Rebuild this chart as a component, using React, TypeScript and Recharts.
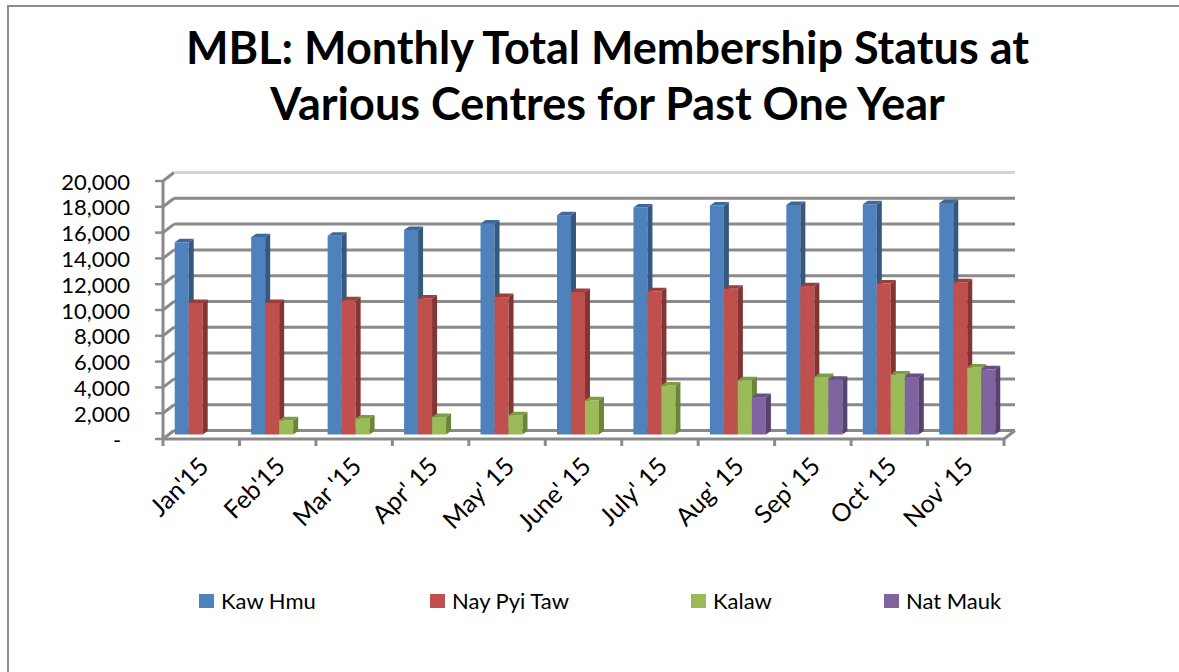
import React from "react";
import { BarChart, Bar, XAxis, YAxis, CartesianGrid, Legend } from "recharts";

// data
const months = [
  "Jan'15",
  "Feb'15",
  "Mar '15",
  "Apr' 15",
  "May' 15",
  "June' 15",
  "July' 15",
  "Aug' 15",
  "Sep' 15",
  "Oct' 15",
  "Nov' 15",
];
const kawHmu = [14900, 15300, 15400, 15850, 16350, 17000, 17600, 17750, 17800, 17850, 17950];
const nayPyiTaw = [10200, 10200, 10400, 10550, 10650, 11050, 11100, 11300, 11500, 11700, 11800];
const kalaw = [null, 1100, 1250, 1350, 1500, 2650, 3800, 4200, 4450, 4650, 5200];
const natMauk = [null, null, null, null, null, null, null, 2900, 4250, 4450, 5050];
const yTicks = [0, 2000, 4000, 6000, 8000, 10000, 12000, 14000, 16000, 18000, 20000];

const series = [
  { key: "kawHmu", name: "Kaw Hmu", front: "#4f81bd", side: "#34597f", top: "#3e6898" },
  { key: "nayPyiTaw", name: "Nay Pyi Taw", front: "#c0504d", side: "#843432", top: "#9c3e3b" },
  { key: "kalaw", name: "Kalaw", front: "#9bbb59", side: "#6b8539", top: "#7e9c43" },
  { key: "natMauk", name: "Nat Mauk", front: "#8064a2", side: "#56426f", top: "#674f84" },
];

const data = months.map((m, i) => ({
  month: m,
  kawHmu: kawHmu[i],
  nayPyiTaw: nayPyiTaw[i],
  kalaw: kalaw[i],
  natMauk: natMauk[i],
}));

const W = 1179;
const H = 672;
const PLOT_LEFT = 163;
const PLOT_RIGHT = 1004;
const PLOT_TOP = 181;
const PLOT_BOTTOM = 439;
const BAND = (PLOT_RIGHT - PLOT_LEFT) / months.length;
const DEPTH_X = 11;
const DEPTH_Y = 8.5;
const FONT = "Lato, 'Open Sans', sans-serif";
const GRID = "#8a8a8a";

const Bar3D = (props: any) => {
  const { x, y, width, height, fill, side, top } = props;
  if (height == null || height <= 0 || isNaN(y)) return null;
  const fx = x + 2;
  const fy = y - 4.5;
  const d = 5;
  const e = 3.5;
  return (
    <g>
      <rect x={fx} y={fy} width={width} height={height} fill={fill} />
      <polygon
        points={`${fx + width},${fy} ${fx + width + d},${fy - e} ${fx + width + d},${fy + height - e} ${fx + width},${fy + height}`}
        fill={side}
      />
      <polygon
        points={`${fx},${fy} ${fx + d},${fy - e} ${fx + width + d},${fy - e} ${fx + width},${fy}`}
        fill={top}
      />
    </g>
  );
};

const renderGridLine = (p: any) => {
  const { x1, x2, y1, index } = p;
  const isTop = Math.abs(y1 - PLOT_TOP) < 1;
  const isBottom = Math.abs(y1 - PLOT_BOTTOM) < 1;
  return (
    <g key={`grid-${index}`}>
      <path
        d={`M${x1},${y1} L${x1 + DEPTH_X},${y1 - DEPTH_Y}`}
        stroke={GRID}
        strokeWidth={3}
        fill="none"
      />
      <path
        d={`M${x1 + DEPTH_X},${y1 - DEPTH_Y} L${x2 + DEPTH_X},${y1 - DEPTH_Y}`}
        stroke={isTop ? "#d4d4d4" : GRID}
        strokeWidth={3}
        fill="none"
      />
      {isBottom && (
        <path
          d={`M${x2},${y1} L${x2 + DEPTH_X},${y1 - DEPTH_Y}`}
          stroke={GRID}
          strokeWidth={3}
          fill="none"
        />
      )}
    </g>
  );
};

const YTick = ({ x, y, payload }: any) => {
  if (payload.value === 0) {
    return (
      <text x={117} y={y} textAnchor="middle" dominantBaseline="central" fontSize={22} fontFamily={FONT} fill="#000">
        -
      </text>
    );
  }
  return (
    <text x={x} y={y} textAnchor="end" dominantBaseline="central" fontSize={22} fontFamily={FONT} fill="#000">
      {payload.value.toLocaleString("en-US")}
    </text>
  );
};

const XTick = ({ x, payload, index }: any) => {
  const left = x - BAND / 2;
  const ax = x + 9;
  const ay = PLOT_BOTTOM + 29;
  return (
    <g>
      <line x1={left} y1={PLOT_BOTTOM} x2={left} y2={PLOT_BOTTOM + 7} stroke={GRID} strokeWidth={3} />
      {index === months.length - 1 && (
        <line x1={x + BAND / 2} y1={PLOT_BOTTOM} x2={x + BAND / 2} y2={PLOT_BOTTOM + 7} stroke={GRID} strokeWidth={3} />
      )}
      <text
        x={ax}
        y={ay}
        textAnchor="end"
        fontSize={25}
        fontFamily={FONT}
        fill="#000"
        transform={`rotate(-45 ${ax} ${ay})`}
      >
        {payload.value}
      </text>
    </g>
  );
};

const legendLeft = [199, 430, 691, 884];

const LegendContent = ({ payload }: any) => {
  const items = series.map((s) => {
    const found = (payload || []).find((p: any) => p.value === s.name);
    return { value: s.name, color: found ? found.color : s.front };
  });
  return (
    <div style={{ position: "relative", width: W, height: 32, fontFamily: FONT }}>
      {items.map((entry, i) => (
        <div
          key={entry.value}
          style={{
            position: "absolute",
            left: legendLeft[i],
            top: 0,
            display: "flex",
            alignItems: "center",
            fontSize: 22,
            whiteSpace: "nowrap",
            color: "#000",
          }}
        >
          <span style={{ display: "inline-block", width: 15, height: 14, background: entry.color, marginRight: 7 }} />
          {entry.value}
        </div>
      ))}
    </div>
  );
};

export default function App() {
  return (
    <div
      style={{
        position: "absolute",
        left: 0,
        top: 0,
        width: W,
        height: H,
        background: "#fff",
        overflow: "hidden",
        fontFamily: FONT,
      }}
    >
      <div
        style={{
          position: "absolute",
          left: 7,
          top: 5,
          width: W + 20,
          height: H + 20,
          borderLeft: "2px solid #8c8c8c",
          borderTop: "2px solid #8c8c8c",
        }}
      />
      <div
        style={{
          position: "absolute",
          left: 0,
          top: 19,
          width: 1215,
          textAlign: "center",
          fontSize: 45,
          fontWeight: 700,
          lineHeight: "56px",
          color: "#000",
        }}
      >
        MBL: Monthly Total Membership Status at
        <br />
        Various Centres for Past One Year
      </div>
      <div style={{ position: "absolute", left: 0, top: 0 }}>
        <BarChart
          width={W}
          height={H}
          data={data}
          margin={{ top: PLOT_TOP, right: W - PLOT_RIGHT, bottom: H - PLOT_BOTTOM - 30, left: PLOT_LEFT - 60 }}
          barGap={0}
          barCategoryGap="12.7%"
        >
          <CartesianGrid vertical={false} horizontal={renderGridLine} />
          <XAxis
            dataKey="month"
            height={30}
            interval={0}
            axisLine={{ stroke: GRID, strokeWidth: 3 }}
            tickLine={false}
            tick={<XTick />}
          />
          <YAxis
            width={60}
            domain={[0, 20000]}
            ticks={yTicks}
            interval={0}
            tickSize={8}
            tickMargin={25}
            axisLine={{ stroke: GRID, strokeWidth: 3 }}
            tickLine={{ stroke: GRID, strokeWidth: 2.5 }}
            tick={<YTick />}
          />
          <Legend
            layout="horizontal"
            verticalAlign="middle"
            align="center"
            wrapperStyle={{ top: 587, left: 0, width: W }}
            content={<LegendContent />}
          />
          {series.map((s) => (
            <Bar
              key={s.key}
              dataKey={s.key}
              name={s.name}
              fill={s.front}
              isAnimationActive={false}
              shape={(p: any) => <Bar3D {...p} fill={s.front} side={s.side} top={s.top} />}
            />
          ))}
        </BarChart>
      </div>
    </div>
  );
}
